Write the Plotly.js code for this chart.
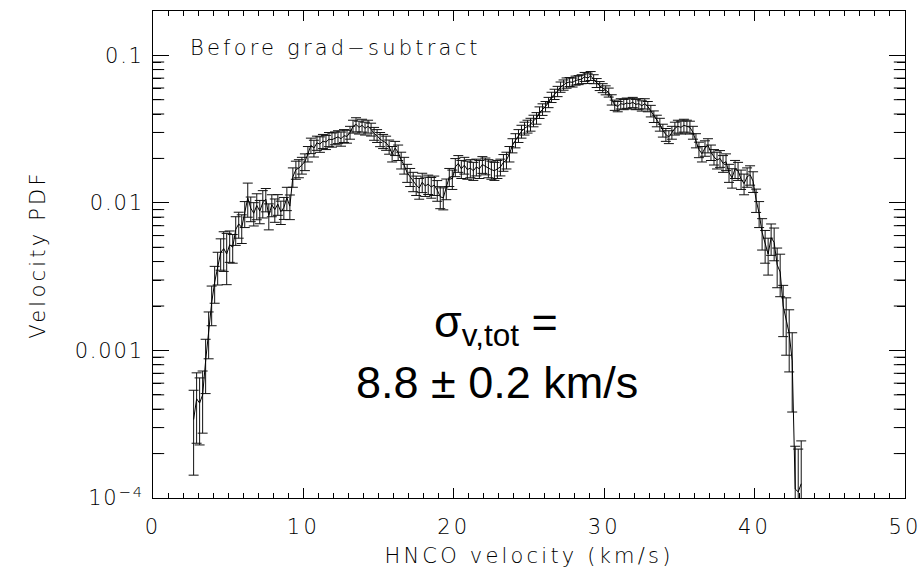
<!DOCTYPE html>
<html>
<head>
<meta charset="utf-8">
<script src="https://cdn.plot.ly/plotly-3.0.1.min.js"></script>
<style>
  html, body { margin: 0; padding: 0; background: #fff; }
  #chart { width: 922px; height: 579px; }
  .xtick text, .g-xtitle text, .g-ytitle text,
  g.annotation[data-index="0"] text { letter-spacing: 3.2px; }
  .ytick text { letter-spacing: 1.8px; }
</style>
</head>
<body>
<div id="chart"></div>
<script>
// HNCO velocity (km/s)
const velocity = [
  2.7, 2.9, 3.1, 3.3, 3.5, 3.7, 3.9, 4.1, 4.3, 4.5,
  4.7, 4.9, 5.1, 5.3, 5.5, 5.7, 5.9, 6.1, 6.3, 6.5,
  6.7, 6.9, 7.1, 7.3, 7.5, 7.7, 7.9, 8.1, 8.3, 8.5,
  8.7, 8.9, 9.1, 9.3, 9.5, 9.7, 9.9, 10.1, 10.3, 10.5,
  10.7, 10.9, 11.1, 11.3, 11.5, 11.7, 11.9, 12.1, 12.3, 12.5,
  12.7, 12.9, 13.1, 13.3, 13.5, 13.7, 13.9, 14.1, 14.3, 14.5,
  14.7, 14.9, 15.1, 15.3, 15.5, 15.7, 15.9, 16.1, 16.3, 16.5,
  16.7, 16.9, 17.1, 17.3, 17.5, 17.7, 17.9, 18.1, 18.3, 18.5,
  18.7, 18.9, 19.1, 19.3, 19.5, 19.7, 19.9, 20.1, 20.3, 20.5,
  20.7, 20.9, 21.1, 21.3, 21.5, 21.7, 21.9, 22.1, 22.3, 22.5,
  22.7, 22.9, 23.1, 23.3, 23.5, 23.7, 23.9, 24.1, 24.3, 24.5,
  24.7, 24.9, 25.1, 25.3, 25.5, 25.7, 25.9, 26.1, 26.3, 26.5,
  26.7, 26.9, 27.1, 27.3, 27.5, 27.7, 27.9, 28.1, 28.3, 28.5,
  28.7, 28.9, 29.1, 29.3, 29.5, 29.7, 29.9, 30.1, 30.3, 30.5,
  30.7, 30.9, 31.1, 31.3, 31.5, 31.7, 31.9, 32.1, 32.3, 32.5,
  32.7, 32.9, 33.1, 33.3, 33.5, 33.7, 33.9, 34.1, 34.3, 34.5,
  34.7, 34.9, 35.1, 35.3, 35.5, 35.7, 35.9, 36.1, 36.3, 36.5,
  36.7, 36.9, 37.1, 37.3, 37.5, 37.7, 37.9, 38.1, 38.3, 38.5,
  38.7, 38.9, 39.1, 39.3, 39.5, 39.7, 39.9, 40.1, 40.3, 40.5,
  40.7, 40.9, 41.1, 41.3, 41.5, 41.7, 41.9, 42.1, 42.3, 42.5,
  42.7, 42.9, 43.1
];

// Velocity PDF
const pdf = [
  0.00034, 0.00047, 0.00044, 0.00050, 0.00085, 0.00135, 0.0021, 0.0029, 0.0037, 0.0046,
  0.0049, 0.0045, 0.0052, 0.0050, 0.0066, 0.0072, 0.0068, 0.0085, 0.0108, 0.0092,
  0.0085, 0.0096, 0.0088, 0.0100, 0.0106, 0.0082, 0.0097, 0.0090, 0.0098, 0.0087,
  0.0093, 0.0108, 0.0095, 0.0150, 0.0168, 0.0172, 0.0180, 0.0190, 0.0215, 0.0245,
  0.0235, 0.0255, 0.0250, 0.0262, 0.0258, 0.0270, 0.0268, 0.0275, 0.0280, 0.0272,
  0.0285, 0.0282, 0.0300, 0.0330, 0.0340, 0.0325, 0.0335, 0.0320, 0.0330, 0.0315,
  0.0295, 0.0285, 0.0270, 0.0262, 0.0255, 0.0240, 0.0215, 0.0235, 0.0220, 0.0195,
  0.0180, 0.0160, 0.0150, 0.0140, 0.0132, 0.0126, 0.0138, 0.0130, 0.0134, 0.0128,
  0.0132, 0.0122, 0.0110, 0.0108, 0.0125, 0.0150, 0.0145, 0.0175, 0.0185, 0.0170,
  0.0180, 0.0168, 0.0172, 0.0165, 0.0175, 0.0170, 0.0182, 0.0178, 0.0172, 0.0168,
  0.0165, 0.0170, 0.0175, 0.0188, 0.0195, 0.0215, 0.0245, 0.0265, 0.0285, 0.0305,
  0.0320, 0.0330, 0.0340, 0.0360, 0.0375, 0.0410, 0.0430, 0.0450, 0.0480, 0.0520,
  0.0545, 0.0570, 0.0610, 0.0630, 0.0650, 0.0660, 0.0655, 0.0675, 0.0680, 0.0690,
  0.0715, 0.0700, 0.0725, 0.0690, 0.0650, 0.0620, 0.0600, 0.0580, 0.0560, 0.0500,
  0.0460, 0.0450, 0.0470, 0.0465, 0.0475, 0.0470, 0.0480, 0.0465, 0.0470, 0.0455,
  0.0470, 0.0450, 0.0420, 0.0385, 0.0360, 0.0340, 0.0310, 0.0290, 0.0280, 0.0300,
  0.0320, 0.0330, 0.0325, 0.0335, 0.0330, 0.0325, 0.0300, 0.0265, 0.0230, 0.0215,
  0.0235, 0.0245, 0.0220, 0.0205, 0.0195, 0.0200, 0.0185, 0.0190, 0.0160, 0.0148,
  0.0170, 0.0165, 0.0145, 0.0135, 0.0150, 0.0155, 0.0140, 0.0105, 0.0085, 0.0063,
  0.0052, 0.0045, 0.0058, 0.0054, 0.0038, 0.0034, 0.0020, 0.0016, 0.0013, 0.00085,
  0.000115, 0.00011, 0.000125
];

// Relative uncertainty of each PDF value (percent)
const errPercent = [
  58, 50, 48, 45, 40, 35, 30, 28, 25, 24,
  30, 38, 24, 22, 22, 20, 22, 20, 26, 19,
  18, 20, 18, 21, 18, 20, 17, 18, 16, 18,
  17, 18, 19, 15, 14, 14, 13, 13, 12, 12,
  13, 11, 12, 11, 11, 11, 11, 10, 10, 11,
  10, 10, 10, 10, 11, 10, 10, 10, 10, 10,
  10, 10, 11, 11, 11, 11, 12, 11, 12, 13,
  13, 14, 14, 15, 15, 16, 15, 15, 15, 16,
  15, 16, 17, 17, 16, 14, 15, 14, 13, 14,
  13, 14, 14, 14, 13, 14, 13, 13, 14, 14,
  14, 14, 13, 13, 13, 12, 11, 11, 10, 10,
  10, 10, 10, 9, 9, 9, 9, 8, 8, 8,
  8, 8, 8, 8, 8, 7, 7, 7, 7, 7,
  7, 8, 7, 7, 7, 7, 7, 7, 7, 8,
  8, 8, 8, 8, 8, 8, 8, 8, 8, 8,
  8, 8, 9, 9, 9, 10, 10, 10, 10, 10,
  10, 10, 10, 10, 10, 10, 10, 11, 12, 12,
  12, 11, 12, 12, 13, 13, 13, 13, 14, 15,
  14, 14, 15, 16, 15, 15, 16, 18, 20, 24,
  25, 28, 24, 25, 30, 32, 38, 42, 45, 55,
  95, 95, 95
];

// Axis tick values / labels
const xRange = [0, 50];
const yLogRange = [-4, -0.70];
const xTickVals = [0, 10, 20, 30, 40, 50];
const xTickText = ['0', '10', '20', '30', '40', '50'];
const yTickVals = [1e-4, 1e-3, 1e-2, 1e-1];
const yTickText = ['10<sup>\u22124</sup>', '0.001', '0.01', '0.1'];
const yMinorTickVals = [
  2e-4, 3e-4, 4e-4, 5e-4, 6e-4, 7e-4, 8e-4, 9e-4,
  2e-3, 3e-3, 4e-3, 5e-3, 6e-3, 7e-3, 8e-3, 9e-3,
  2e-2, 3e-2, 4e-2, 5e-2, 6e-2, 7e-2, 8e-2, 9e-2
];

const labelText = 'Before grad\u2212subtract';
const sigmaText = '\u03c3<sub>v,tot</sub> =';
const sigmaValue = '8.8 \u00b1 0.2 km/s';

const errAbs = pdf.map((p, i) => p * errPercent[i] / 100);

const hershey = { family: 'DejaVu Sans, sans-serif', size: 21, color: '#000', weight: 200 };
const helv = { family: 'Liberation Sans, Arial, sans-serif', size: 45, color: '#000' };

const trace = {
  type: 'scatter',
  mode: 'lines',
  x: velocity,
  y: pdf,
  line: { color: '#000', width: 1 },
  error_y: { type: 'data', array: errAbs, visible: true, color: '#111', thickness: 1, width: 5 },
  showlegend: false,
  hoverinfo: 'skip'
};

// minor log ticks at the left/right frame edges: horizontal line markers,
// half of each clipped by the plot area; they sit on the overlaid minor-tick axis y2
function minorTickTrace(edge) {
  return {
    type: 'scatter',
    mode: 'markers',
    x: yMinorTickVals.map(() => edge),
    y: yMinorTickVals,
    yaxis: 'y2',
    marker: { symbol: 'line-ew', size: 16, color: '#000', line: { width: 1, color: '#000' } },
    cliponaxis: true,
    showlegend: false,
    hoverinfo: 'skip'
  };
}

const layout = {
  width: 922,
  height: 579,
  margin: { l: 153, r: 17, t: 11, b: 81 },
  paper_bgcolor: '#fff',
  plot_bgcolor: '#fff',
  showlegend: false,
  font: hershey,
  xaxis: {
    range: xRange,
    tickmode: 'array',
    tickvals: xTickVals,
    ticktext: xTickText,
    ticks: 'inside',
    ticklen: 10,
    tickwidth: 1,
    tickcolor: '#000',
    showline: true,
    linecolor: '#000',
    linewidth: 1,
    mirror: 'ticks',
    showgrid: false,
    zeroline: false,
    ticklabelstandoff: 10,
    tickfont: hershey,
    minor: { ticks: 'inside', ticklen: 5, tickwidth: 1, tickcolor: '#000', dtick: 1, tick0: 0, showgrid: false },
    title: { text: 'HNCO velocity (km/s)', font: hershey, standoff: 10 }
  },
  yaxis: {
    type: 'log',
    range: yLogRange,
    tickmode: 'array',
    tickvals: yTickVals,
    ticktext: yTickText,
    ticks: 'inside',
    ticklen: 16,
    tickwidth: 1,
    tickcolor: '#000',
    showline: true,
    linecolor: '#000',
    linewidth: 1,
    mirror: 'ticks',
    showgrid: false,
    zeroline: false,
    ticklabelstandoff: 4,
    tickfont: hershey,
    title: { text: 'Velocity PDF', font: hershey, standoff: 23 }
  },
  yaxis2: {
    type: 'log',
    range: yLogRange,
    overlaying: 'y',
    side: 'left',
    anchor: 'x',
    tickmode: 'array',
    tickvals: yMinorTickVals,
    ticktext: yMinorTickVals.map(() => ''),
    showticklabels: false,
    ticks: 'inside',
    ticklen: 8,
    tickwidth: 1,
    tickcolor: '#000',
    showline: true,
    linecolor: '#000',
    linewidth: 1,
    mirror: 'ticks',
    showgrid: false,
    zeroline: false
  },
  annotations: [
    {
      xref: 'paper', yref: 'paper', x: 0.046, y: 0.924,
      xanchor: 'left', yanchor: 'middle', align: 'left',
      text: labelText, showarrow: false, font: hershey
    },
    {
      xref: 'paper', yref: 'paper', x: 0.456, y: 0.357,
      xanchor: 'center', yanchor: 'middle',
      text: sigmaText, showarrow: false, font: helv
    },
    {
      xref: 'paper', yref: 'paper', x: 0.457, y: 0.237,
      xanchor: 'center', yanchor: 'middle',
      text: sigmaValue, showarrow: false, font: helv
    }
  ]
};

Plotly.newPlot('chart', [trace, minorTickTrace(xRange[0]), minorTickTrace(xRange[1])], layout,
  { displayModeBar: false, staticPlot: true });
</script>
</body>
</html>
